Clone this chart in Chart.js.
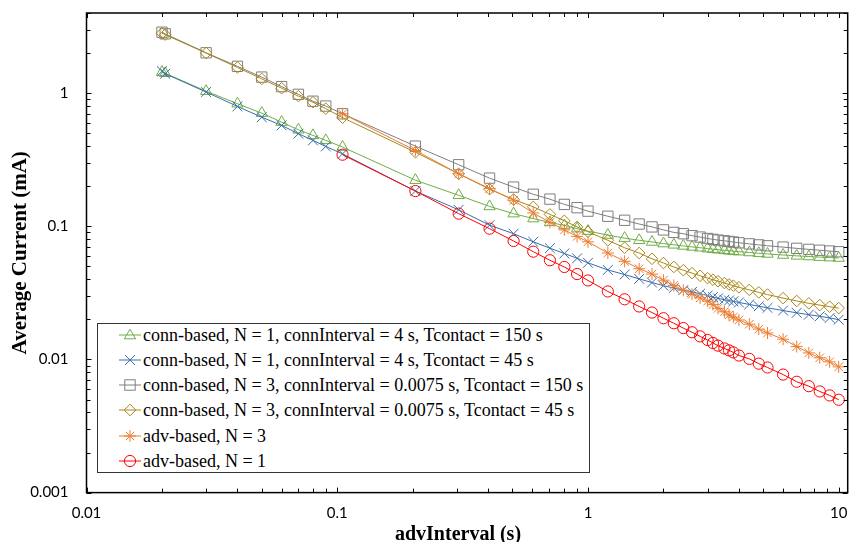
<!DOCTYPE html>
<html><head><meta charset="utf-8">
<script src="https://cdn.jsdelivr.net/npm/chart.js@4.4.1/dist/chart.umd.min.js"></script>
<style>
html,body{margin:0;padding:0;background:#fff;overflow:hidden;}
#wrap{position:relative;width:852px;height:542px;overflow:hidden;}
#c{position:absolute;left:0;top:0;}
#legend{position:absolute;left:97px;top:323px;width:493px;height:150px;border:1px solid #333;background:#fff;box-sizing:border-box;font-family:"Liberation Serif","Times New Roman",serif;font-size:18px;color:#000;}
.row{position:absolute;left:21px;height:20px;display:flex;align-items:center;white-space:nowrap;line-height:20px;}
.row svg{margin-right:2px;display:block;}
#xtitle{position:absolute;left:0;width:916px;top:522px;height:22px;line-height:22px;text-align:center;font-family:"Liberation Serif","Times New Roman",serif;font-weight:bold;font-size:20px;color:#000;}
</style></head>
<body><div id="wrap"><canvas id="c" width="856" height="542"></canvas><div id="legend"></div><div id="xtitle"></div></div>
<script>
// ---- data ----
const xConn = [0.02, 0.0206, 0.03, 0.04, 0.05, 0.06, 0.07, 0.08, 0.09,
  0.105, 0.205, 0.305, 0.405, 0.505, 0.605, 0.705, 0.805, 0.905,
  1.0, 1.2, 1.4, 1.6, 1.8, 2.0, 2.2, 2.4, 2.6, 2.8, 3.0, 3.15, 3.3, 3.5, 3.65, 3.8, 4.0,
  4.4, 4.8, 5.2, 6.0, 6.8, 7.6, 8.4, 9.2, 10.0];
const xAdv = [0.105, 0.205, 0.305, 0.405, 0.505, 0.605, 0.705, 0.805, 0.905,
  1.0, 1.2, 1.4, 1.6, 1.8, 2.0, 2.2, 2.4, 2.6, 2.8, 3.0, 3.15, 3.3, 3.5, 3.65, 3.8, 4.0,
  4.4, 4.8, 5.2, 6.0, 6.8, 7.6, 8.4, 9.2, 10.0];

const connN1T150 = [1.44, 1.41, 1.035, 0.833, 0.708, 0.606, 0.531, 0.482, 0.442,
  0.394, 0.222, 0.171, 0.141, 0.1245, 0.1143, 0.107, 0.1015, 0.096,
  0.092, 0.086, 0.0815, 0.0785, 0.0763, 0.0742, 0.0726, 0.0712, 0.070, 0.069,
  0.068, 0.0673, 0.0667, 0.066, 0.0655, 0.065, 0.0645,
  0.0636, 0.0627, 0.062, 0.0609, 0.060, 0.0593, 0.0587, 0.0582, 0.0578];
const connN1T45 = [1.46, 1.40, 1.02, 0.795, 0.66, 0.573, 0.496, 0.442, 0.398,
  0.35, 0.184, 0.133, 0.102, 0.088, 0.0765, 0.0685, 0.0625, 0.0575,
  0.0532, 0.047, 0.0434, 0.0403, 0.0378, 0.0358, 0.0344, 0.0332, 0.0322, 0.0312,
  0.0302, 0.0294, 0.0288, 0.0281, 0.0277, 0.0273, 0.0268,
  0.0259, 0.0251, 0.0244, 0.0233, 0.0224, 0.0217, 0.0211, 0.0205, 0.0199];
const connN3T150 = [2.87, 2.79, 2.01, 1.59, 1.32, 1.12, 0.98, 0.87, 0.80,
  0.70, 0.40, 0.29, 0.23, 0.197, 0.174, 0.160, 0.146, 0.138,
  0.130, 0.119, 0.111, 0.104, 0.099, 0.094, 0.090, 0.088, 0.085, 0.083,
  0.081, 0.0798, 0.0788, 0.0778, 0.077, 0.0762, 0.0752,
  0.0738, 0.0725, 0.0714, 0.0698, 0.0683, 0.0671, 0.0661, 0.0652, 0.0644];
const connN3T45 = [2.82, 2.75, 2.0, 1.56, 1.28, 1.09, 0.95, 0.855, 0.765,
  0.655, 0.36, 0.248, 0.19, 0.159, 0.14, 0.123, 0.11, 0.099,
  0.091, 0.0785, 0.069, 0.063, 0.057, 0.053, 0.0495, 0.0468, 0.0445, 0.0425,
  0.0408, 0.0397, 0.0387, 0.0375, 0.0366, 0.0358, 0.0348,
  0.0333, 0.0319, 0.0307, 0.0289, 0.0275, 0.0264, 0.0256, 0.0249, 0.0243];
const advN3 = [0.70, 0.371, 0.248, 0.192, 0.157, 0.126, 0.107, 0.094, 0.084,
  0.0765, 0.063, 0.0546, 0.048, 0.0438, 0.0394, 0.036, 0.0331, 0.0309, 0.029,
  0.0274, 0.0258, 0.0242, 0.0228, 0.0216, 0.0208, 0.0198,
  0.0184, 0.0169, 0.0158, 0.0142, 0.0125, 0.0112, 0.0103, 0.0096, 0.0088];
const advN1 = [0.345, 0.184, 0.1245, 0.096, 0.0776, 0.0645, 0.0556, 0.0495, 0.0438,
  0.0392, 0.0324, 0.0283, 0.025, 0.0225, 0.0204, 0.0187, 0.0172, 0.016, 0.0149,
  0.014, 0.0133, 0.0127, 0.0121, 0.0117, 0.0113, 0.0107,
  0.0101, 0.0093, 0.0087, 0.0077, 0.0068, 0.0063, 0.00575, 0.00537, 0.00498];

const seriesNames = [
  'conn-based, N = 1, connInterval = 4 s, Tcontact = 150 s',
  'conn-based, N = 1, connInterval = 4 s, Tcontact = 45 s',
  'conn-based, N = 3, connInterval = 0.0075 s, Tcontact = 150 s',
  'conn-based, N = 3, connInterval = 0.0075 s, Tcontact = 45 s',
  'adv-based, N = 3',
  'adv-based, N = 1'
];
const xTickValues = [0.01, 0.1, 1, 10];
const xTickLabels = ['0.01', '0.1', '1', '10'];
const yTickValues = [0.001, 0.01, 0.1, 1];
const yTickLabels = ['0.001', '0.01', '0.1', '1'];
const xTitle = 'advInterval (s)';
const yTitle = 'Average Current (mA)';

// ---- styles ----
const colors = ['#70AD47', '#3A6EA8', '#7F7F7F', '#A8871A', '#ED7D31', '#FF0000'];
const shapes = ['triangle', 'crossRot', 'rect', 'rectRot', 'star', 'circle'];
const radii = [6.5, 7, 7.3, 5.8, 6, 5.6];

function toXY(xs, ys) { return ys.map((v, i) => ({ x: xs[i], y: v })); }
const seriesData = [
  toXY(xConn, connN1T150), toXY(xConn, connN1T45), toXY(xConn, connN3T150),
  toXY(xConn, connN3T45), toXY(xAdv, advN3), toXY(xAdv, advN1)
];

const datasets = seriesData.map((d, i) => ({
  label: seriesNames[i], data: d,
  borderColor: colors[i], backgroundColor: 'rgba(0,0,0,0)',
  pointBorderColor: colors[i], pointBackgroundColor: 'rgba(0,0,0,0)',
  pointStyle: shapes[i], pointRadius: radii[i], pointHoverRadius: radii[i],
  pointBorderWidth: 1, borderWidth: 1, tension: 0, order: 6 - i
}));

const frameTicks = {
  id: 'frameTicks',
  afterDatasetsDraw(chart) {
    const { ctx, chartArea: a, scales: { x, y } } = chart;
    ctx.save();
    ctx.strokeStyle = '#000';
    ctx.lineWidth = 1;
    ctx.beginPath();
    const mults = [1, 2, 3, 4, 5, 6, 7, 8, 9];
    for (let e = -3; e <= 1; e++) {
      for (const m of mults) {
        const v = m * Math.pow(10, e);
        const L = m === 1 ? 5 : 4;
        if (v >= x.min * 0.999 && v <= x.max) {
          const px = Math.round(x.getPixelForValue(v)) + 0.5;
          ctx.moveTo(px, a.bottom); ctx.lineTo(px, a.bottom - L);
          ctx.moveTo(px, a.top); ctx.lineTo(px, a.top + L);
        }
        if (v >= y.min * 0.999 && v <= y.max) {
          const py = Math.round(y.getPixelForValue(v)) + 0.5;
          ctx.moveTo(a.left, py); ctx.lineTo(a.left + L, py);
          ctx.moveTo(a.right, py); ctx.lineTo(a.right - L, py);
        }
      }
    }
    ctx.stroke();
    ctx.lineWidth = 1.5;
    ctx.strokeRect(a.left, a.top, a.right - a.left, a.bottom - a.top);
    ctx.restore();
  }
};

function zeroPad(s) { s.paddingLeft = 0; s.paddingRight = 0; s.paddingTop = 0; s.paddingBottom = 0; }

new Chart(document.getElementById('c'), {
  type: 'line',
  data: { datasets },
  plugins: [frameTicks],
  options: {
    responsive: false, animation: false, devicePixelRatio: 1,
    layout: { padding: { left: 0, top: 13, right: 1, bottom: 0 } },
    plugins: { legend: { display: false }, tooltip: { enabled: false } },
    events: [],
    scales: {
      x: {
        type: 'logarithmic', min: 0.01, max: 10.86,
        grid: { display: false, drawTicks: false }, border: { display: false },
        afterBuildTicks(s) { s.ticks = xTickValues.map(v => ({ value: v })); },
        afterFit(s) { s.height = 49.4; zeroPad(s); },
        ticks: { autoSkip: false, maxRotation: 0, padding: 12, color: '#000',
          font: { family: 'Lato', size: 15 },
          callback: (v, i) => xTickLabels[i] },
        title: { display: false }
      },
      y: {
        type: 'logarithmic', min: 0.001, max: 4,
        grid: { display: false, drawTicks: false }, border: { display: false },
        afterBuildTicks(s) { s.ticks = yTickValues.map(v => ({ value: v })); },
        afterFit(s) { s.width = 86.5; zeroPad(s); },
        ticks: { autoSkip: false, padding: 18, color: '#000',
          font: { family: 'Lato', size: 15 },
          callback: (v, i) => yTickLabels[i] },
        title: { display: true, text: yTitle, color: '#000',
          font: { family: '"Liberation Serif"', size: 21, weight: 'bold', lineHeight: 1.0 },
          padding: { top: 10, bottom: 0 } }
      }
    }
  }
});

document.getElementById('xtitle').textContent = xTitle;

// ---- legend (HTML) ----
function markerSVG(shape, color) {
  let m = '';
  const s = `fill="none" stroke="${color}" stroke-width="1"`;
  switch (shape) {
    case 'triangle': m = `<polygon points="11,2.2 16.6,11.8 5.4,11.8" ${s}/>`; break;
    case 'crossRot': m = `<path d="M6,3 L16,13 M16,3 L6,13" ${s}/>`; break;
    case 'rect': m = `<rect x="5.8" y="2.8" width="10.4" height="10.4" ${s}/>`; break;
    case 'rectRot': m = `<polygon points="11,2.2 16.8,8 11,13.8 5.2,8" ${s}/>`; break;
    case 'star': m = `<path d="M11,2 L11,14 M5,8 L17,8 M6.8,3.8 L15.2,12.2 M15.2,3.8 L6.8,12.2" ${s}/>`; break;
    case 'circle': m = `<circle cx="11" cy="8" r="5.6" ${s}/>`; break;
  }
  return `<svg width="22" height="16" viewBox="0 0 22 16"><line x1="0" y1="8" x2="22" y2="8" stroke="${color}" stroke-width="1"/>${m}</svg>`;
}
const legendRowCenters = [12, 37, 62, 87, 112.5, 137.5];
const leg = document.getElementById('legend');
seriesNames.forEach((name, i) => {
  const r = document.createElement('div');
  r.className = 'row';
  r.style.top = (legendRowCenters[i] - 11) + 'px';
  r.innerHTML = markerSVG(shapes[i], colors[i]) + '<span></span>';
  r.querySelector('span').textContent = name;
  leg.appendChild(r);
});
</script>
</body></html>
